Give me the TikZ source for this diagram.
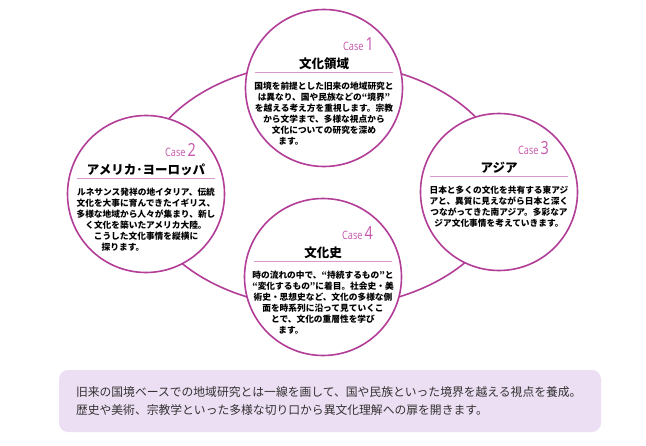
\documentclass[tikz,border=0pt]{standalone}
\usepackage{fontspec}
\setmainfont{Noto Sans CJK JP}
\newfontfamily\casefont[FakeStretch=0.8]{Open Sans}
\usepackage{tikz}
\usetikzlibrary{calc}
\definecolor{ringpurple}{RGB}{178, 62, 152}
\definecolor{casepink}{RGB}{198, 86, 172}
\definecolor{rulepink}{RGB}{216, 152, 208}
\definecolor{boxlilac}{RGB}{237, 223, 243}
\definecolor{textgray}{RGB}{50, 50, 50}

\begin{document}
\begin{tikzpicture}[x=1pt, y=-1pt,
    casecircle/.style={circle, draw=ringpurple, line width=1.6pt, fill=white,
                       minimum size=157pt, inner sep=0pt},
    caselabel/.style={anchor=base east, inner sep=0pt, text=casepink,
                      font=\casefont\fontsize{11.5}{13}\selectfont},
    casetitle/.style={anchor=base, inner sep=0pt,
                      font=\bfseries\fontsize{12.5}{14}\selectfont},
    casebody/.style={anchor=north, inner sep=0pt, align=center,
                     font=\bfseries\fontsize{8.7}{11}\selectfont},
    caserule/.style={draw=rulepink, line width=0.9pt},
    summary/.style={fill=boxlilac, rounded corners=9pt, inner sep=0pt,
                    minimum width=542pt, minimum height=62pt}
  ]
    \useasboundingbox[fill=white] (0,0) rectangle (646,445);

    % ring behind the four cases
    \draw[ringpurple, line width=1.6pt] (323,185) ellipse [x radius=183, y radius=123];

    \node[casecircle] (case1) at (324,88) {};
    \node[casecircle] (case2) at (146,194) {};
    \node[casecircle] (case3) at (499,192) {};
    \node[casecircle] (case4) at (323,277) {};

    % Case 1
    \node[caselabel] (label1) at ($(case1.center)+(50,-38)$)
      {Case\,{\fontsize{18}{18}\selectfont 1}};
    \node[casetitle] (title1) at ($(case1.center)+(0,-20)$) {文化領域};
    \draw[caserule] ($(case1.center)+(-69,-16)$) -- ($(case1.center)+(69,-16)$);
    \node[casebody] (body1) at ($(case1.center)+(0,-6.5)$)
      {国境を前提とした旧来の地域研究と\\
       は異なり、国や民族などの“境界”\\
       を越える考え方を重視します。宗教\\
       から文学まで、多様な視点から\\
       文化についての研究を深め\\
       ます。\hspace*{66pt}};

    % Case 2
    \node[caselabel] (label2) at ($(case2.center)+(50,-38)$)
      {Case\,{\fontsize{18}{18}\selectfont 2}};
    \node[casetitle] (title2) at ($(case2.center)+(0,-20)$) {アメリカ･ヨーロッパ};
    \draw[caserule] ($(case2.center)+(-69,-16)$) -- ($(case2.center)+(69,-16)$);
    \node[casebody] (body2) at ($(case2.center)+(0,-6.5)$)
      {ルネサンス発祥の地イタリア、伝統\\
       文化を大事に育んできたイギリス、\\
       多様な地域から人々が集まり、新し\\
       く文化を築いたアメリカ大陸。\\
       こうした文化事情を縦横に\\
       探ります。\hspace*{46pt}};

    % Case 3
    \node[caselabel] (label3) at ($(case3.center)+(50,-38)$)
      {Case\,{\fontsize{18}{18}\selectfont 3}};
    \node[casetitle] (title3) at ($(case3.center)+(0,-20)$) {アジア};
    \draw[caserule] ($(case3.center)+(-69,-16)$) -- ($(case3.center)+(69,-16)$);
    \node[casebody] (body3) at ($(case3.center)+(0,-6.5)$)
      {日本と多くの文化を共有する東アジ\\
       アと、異質に見えながら日本と深く\\
       つながってきた南アジア。多彩なア\\
       ジア文化事情を考えていきます。};

    % Case 4
    \node[caselabel] (label4) at ($(case4.center)+(50,-38)$)
      {Case\,{\fontsize{18}{18}\selectfont 4}};
    \node[casetitle] (title4) at ($(case4.center)+(0,-20)$) {文化史};
    \draw[caserule] ($(case4.center)+(-69,-16)$) -- ($(case4.center)+(69,-16)$);
    \node[casebody] (body4) at ($(case4.center)+(0,-6.5)$)
      {時の流れの中で、“持続するもの”と\\
       “変化するもの”に着目。社会史・美\\
       術史・思想史など、文化の多様な側\\
       面を時系列に沿って見ていくこ\\
       とで、文化の重層性を学び\\
       ます。\hspace*{64pt}};

    % summary box
    \node[summary] (summary) at (330,401) {};
    \node[anchor=west, inner sep=0pt, align=left, text=textgray,
          font=\fontsize{11.8}{18}\selectfont] (summarytext)
      at ($(summary.west)+(17,0)$)
      {旧来の国境ベースでの地域研究とは一線を画して、国や民族といった境界を越える視点を養成。\\
       歴史や美術、宗教学といった多様な切り口から異文化理解への扉を開きます。};
  \end{tikzpicture}
\end{document}
